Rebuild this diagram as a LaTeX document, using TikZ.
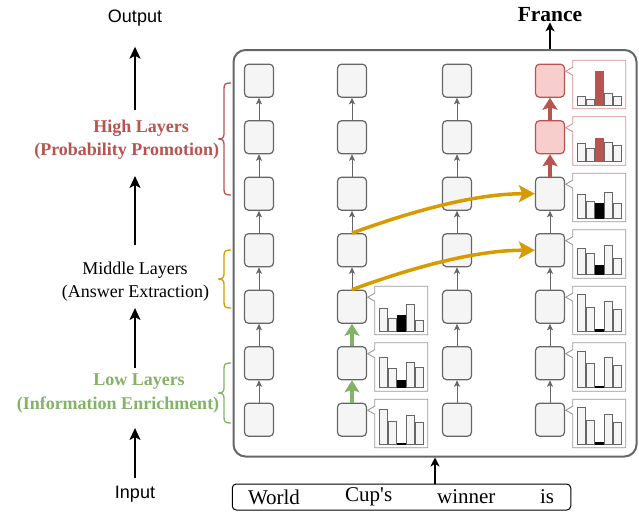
\documentclass[tikz,border=0pt]{standalone}
\usepackage{fontspec}
\setmainfont{Liberation Serif}
\newfontfamily\arialfont{Liberation Sans}
\newfontfamily\wordfont{Liberation Serif}
\usetikzlibrary{arrows.meta}
\definecolor{nodegray}{HTML}{F5F5F5}
\definecolor{edgegray}{HTML}{666666}
\definecolor{redfill}{HTML}{F8CECC}
\definecolor{redline}{HTML}{B85450}
\definecolor{redlight}{HTML}{D48E8C}
\definecolor{greenline}{HTML}{82B366}
\definecolor{orangeline}{HTML}{D79B00}
\definecolor{calloutgray}{HTML}{999999}
\newcommand\mycallout[9]{%
  \begin{scope}[shift={(#1+22.7,#2-20.5)}]
    \draw[draw=#3, fill=white, line width=0.9pt] (0,0) -- (53,0) -- (53,48.5) -- (0,48.5) -- (0,15) -- (-7,11) -- (0,7) -- cycle;
    \draw[histbar] (4.8,45.1) rectangle ++(8,-#4);
    \draw[histbar] (13.8,45.1) rectangle ++(8,-#5);
    \draw[histbar, fill=#9, draw=#9] (22.8,45.1) rectangle ++(8,-#6);
    \draw[histbar] (31.8,45.1) rectangle ++(8,-#7);
    \draw[histbar] (40.8,45.1) rectangle ++(8,-#8);
  \end{scope}}
\newcommand\mybrace[4]{%
  \draw[#1, line width=1.3pt] (231,#2) .. controls (225,#2) and (224,{#2+1}) .. (224,{#2+6})
    -- (224,{#4-5}) .. controls (224,{#4-1}) and (222,#4) .. (218,#4)
    .. controls (222,#4) and (224,{#4+1}) .. (224,{#4+5})
    -- (224,{#3-6}) .. controls (224,{#3-1}) and (225,#3) .. (231,#3);}
\begin{document}
\begin{tikzpicture}[x=1pt,y=-1pt,
  cell/.style={rectangle, rounded corners=4pt, minimum width=29pt, minimum height=33pt, draw=edgegray, fill=nodegray, line width=1.2pt, inner sep=0pt},
  redcell/.style={cell, draw=redline, fill=redfill},
  histbar/.style={draw=edgegray, fill=nodegray, line width=0.7pt},
  garrow/.style={draw=edgegray, line width=0.9pt, -{Stealth[length=6.5pt,width=6pt,inset=1.5pt]}},
  greenarrow/.style={draw=greenline, line width=4pt, -{Stealth[length=12pt,width=15pt,inset=2.5pt]}},
  redarrow/.style={draw=redline, line width=4pt, -{Stealth[length=12pt,width=15pt,inset=2.5pt]}},
  oarrow/.style={draw=orangeline, line width=3.5pt, -{Stealth[length=16pt,width=17pt,inset=3.5pt]}},
  barrow/.style={draw=black, line width=2pt, -{Stealth[length=12pt,width=11pt,inset=3pt]}},
  sarrow/.style={draw=black, line width=1.6pt, -{Stealth[length=9pt,width=9pt,inset=2.5pt]}},
  serif18/.style={font=\fontsize{18}{22}\selectfont, inner sep=0pt},
  word/.style={font=\wordfont\fontsize{21}{24}\selectfont, inner sep=0pt}
]
\useasboundingbox (0,0) rectangle (639,512);

% main container
\node[draw=edgegray, line width=2pt, rounded corners=12pt, minimum width=403pt, minimum height=406.5pt, inner sep=0pt] (mainbox) at (435,253.25) {};

% cells
\foreach \c/\x in {1/259,2/352,3/457}{
  \foreach \r/\y in {1/419.7,2/363.2,3/306.7,4/250.2,5/193.7,6/137.2,7/80.7}{
    \node[cell] (c\c r\r) at (\x,\y) {};
  }
}
\foreach \r/\y in {1/419.7,2/363.2,3/306.7,4/250.2,5/193.7}{
  \node[cell] (c4r\r) at (550,\y) {};
}
\node[redcell] (c4r6) at (550,137.2) {};
\node[redcell] (c4r7) at (550,80.7) {};

% vertical arrows
\foreach \c in {1,3}{
  \foreach \r [evaluate=\r as \n using int(\r+1)] in {1,...,6}{
    \draw[garrow] (c\c r\r) -- (c\c r\n);
  }
}
\foreach \r [evaluate=\r as \n using int(\r+1)] in {3,...,6}{
  \draw[garrow] (c2r\r) -- (c2r\n);
}
\foreach \r [evaluate=\r as \n using int(\r+1)] in {1,...,4}{
  \draw[garrow] (c4r\r) -- (c4r\n);
}
\draw[greenarrow] (c2r1) -- (c2r2);
\draw[greenarrow] (c2r2) -- (c2r3);
\draw[redarrow] (c4r5) -- (c4r6);
\draw[redarrow] (c4r6) -- (c4r7);

% callouts
\mycallout{550}{80.7}{redlight}{8.6}{6}{34.3}{12}{9.3}{redline}
\mycallout{550}{137.2}{redlight}{18.7}{13.7}{23}{19.7}{16.7}{redline}
\mycallout{550}{193.7}{calloutgray}{23.7}{17}{15}{26.3}{15.3}{black}
\mycallout{550}{250.2}{calloutgray}{26.7}{21}{9}{29}{16.7}{black}
\mycallout{550}{306.7}{calloutgray}{36.7}{24.3}{1.5}{30.3}{22.3}{black}
\mycallout{550}{363.2}{calloutgray}{36.7}{24.3}{1.5}{30.3}{22.3}{black}
\mycallout{550}{419.7}{calloutgray}{36.7}{24.3}{1.5}{30.3}{22.3}{black}
\mycallout{352}{306.7}{calloutgray}{22.7}{12.7}{16}{26.7}{11}{black}
\mycallout{352}{363.2}{calloutgray}{30.3}{19.7}{7.7}{25}{20.3}{black}
\mycallout{352}{419.7}{calloutgray}{35}{23.3}{1.3}{29}{21.6}{black}

% orange arrows
\draw[oarrow] (c2r4.north) .. controls +(60,-22) and +(-60,0) .. (c4r5.west);
\draw[oarrow] (c2r3.north) .. controls +(60,-22) and +(-60,0) .. (c4r4.west);

% output
\node[font=\fontsize{21.5}{24}\selectfont\bfseries, inner sep=0pt] (france) at (550,15) {France};
\draw[sarrow] (c4r7 |- mainbox.north) -- (france.south);

% input box
\node[draw=black, line width=1pt, rounded corners=4pt, minimum width=338.5pt, minimum height=26pt, inner sep=0pt] (inbox) at (401.5,497) {};
\node[word] (w1) at (274,497) {World};
\node[word] (w2) at (368.7,497) {Cup's};
\node[word] (w3) at (466.3,497) {winner};
\node[word] (w4) at (547,497) {is};
\draw[sarrow] (inbox.north -| mainbox.south) -- (mainbox.south);

% braces
\mybrace{redline}{83}{195}{139}
\mybrace{orangeline}{250}{308}{279}
\mybrace{greenline}{363}{423}{393}

% left column labels
\node[font=\arialfont\fontsize{18}{22}\selectfont, inner sep=0pt] (outtxt) at (135,18) {Output};
\node[font=\arialfont\fontsize{18}{22}\selectfont, inner sep=0pt] (intxt) at (135,494) {Input};
\node[serif18, text=redline, font=\fontsize{18}{22}\selectfont\bfseries] (hl1) at (141,128) {High Layers};
\node[serif18, text=redline, font=\fontsize{18}{22}\selectfont\bfseries] (hl2) at (126.7,151) {(Probability Promotion)};
\node[serif18] (ml1) at (135,270) {Middle Layers};
\node[serif18] (ml2) at (135.5,293) {(Answer Extraction)};
\node[serif18, text=greenline, font=\fontsize{18}{22}\selectfont\bfseries] (ll1) at (139,382) {Low Layers};
\node[serif18, text=greenline, font=\fontsize{18}{22}\selectfont\bfseries] (ll2) at (118,405) {(Information Enrichment)};

\coordinate (a1s) at (135,478);
\coordinate (a1e) at (135,428);
\coordinate (a2s) at (135,368);
\coordinate (a2e) at (135,308);
\coordinate (a3s) at (135,245);
\coordinate (a3e) at (135,176);
\coordinate (a4s) at (135,110);
\coordinate (a4e) at (135,46.7);
\draw[barrow] (a1s) -- (a1e);
\draw[barrow] (a2s) -- (a2e);
\draw[barrow] (a3s) -- (a3e);
\draw[barrow] (a4s) -- (a4e);
\end{tikzpicture}
\end{document}
